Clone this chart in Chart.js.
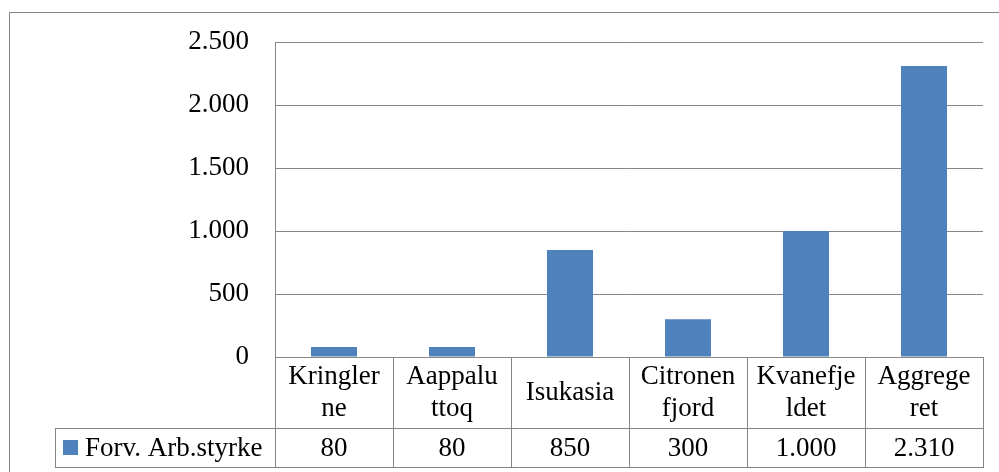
<!DOCTYPE html>
<html><head><meta charset="utf-8">
<script src="https://cdn.jsdelivr.net/npm/chart.js@4/dist/chart.umd.min.js"></script>
<style>html,body{margin:0;padding:0;background:#fff;overflow:hidden}</style>
</head><body><canvas id="c" width="999" height="472"></canvas>
<script>
const categories = [['Kringler','ne'],['Aappalu','ttoq'],['Isukasia'],['Citronen','fjord'],['Kvanefje','ldet'],['Aggrege','ret']];
const seriesName = 'Forv. Arb.styrke';
const values = [80, 80, 850, 300, 1000, 2310];
const yTicks = [0, 500, 1000, 1500, 2000, 2500];

function fmt(v){ return String(v).replace(/\B(?=(\d{3})+(?!\d))/g, '.'); }
const FAMILY = '"Liberation Serif", serif';
const FSIZE = 27;
const GRID = '#868686';
const BAR = '#4F81BD';

const tablePlugin = {
  id: 'table',
  beforeDraw(chart){
    const ctx = chart.ctx;
    ctx.save();
    ctx.fillStyle = '#fff';
    ctx.fillRect(0, 0, chart.width, chart.height);
    ctx.strokeStyle = GRID; ctx.lineWidth = 1;
    ctx.strokeRect(9.5, 12.5, 1100, 600);
    ctx.restore();
  },
  afterDraw(chart){
    const ctx = chart.ctx, a = chart.chartArea, xs = chart.scales.x;
    const n = categories.length;
    const top = a.bottom, mid = top + 71, bot = mid + 39;
    const legendLeft = 55;
    const half = (a.right - a.left) / n / 2;
    const px = v => Math.round(v) + 0.5;
    ctx.save();
    ctx.strokeStyle = GRID; ctx.lineWidth = 1;
    const hl = (x1, x2, y) => { ctx.beginPath(); ctx.moveTo(x1, px(y)); ctx.lineTo(x2, px(y)); ctx.stroke(); };
    const vl = (x, y1, y2) => { ctx.beginPath(); ctx.moveTo(px(x), y1); ctx.lineTo(px(x), y2); ctx.stroke(); };
    hl(a.left, a.right + 1, top);
    hl(legendLeft, a.right + 1, mid);
    hl(legendLeft, a.right + 1, bot);
    vl(legendLeft, mid, bot + 1);
    vl(a.left, top, bot + 1);
    for (let i = 0; i < n; i++) vl(xs.getPixelForValue(i) + half, top, bot + 1);

    ctx.fillStyle = '#000';
    ctx.font = FSIZE + 'px ' + FAMILY;
    ctx.textAlign = 'center'; ctx.textBaseline = 'middle';
    const lh = 32;
    const rowC1 = (top + mid) / 2, rowC2 = (mid + bot) / 2;
    for (let i = 0; i < n; i++) {
      const cx = xs.getPixelForValue(i);
      const lines = categories[i];
      const y0 = rowC1 - (lines.length - 1) * lh / 2;
      lines.forEach((t, k) => ctx.fillText(t, cx, y0 + k * lh));
      ctx.fillText(fmt(values[i]), cx, rowC2 + 1);
    }
    // legend key
    ctx.fillStyle = BAR;
    ctx.fillRect(63, Math.round(rowC2 - 7.5), 15, 15);
    ctx.fillStyle = '#000';
    ctx.textAlign = 'left';
    ctx.fillText(seriesName, 85, rowC2 + 1);
    ctx.restore();
  }
};

new Chart(document.getElementById('c'), {
  type: 'bar',
  data: {
    labels: categories,
    datasets: [{
      label: seriesName,
      data: values,
      backgroundColor: BAR,
      borderWidth: 0,
      barPercentage: 0.39,
      categoryPercentage: 1
    }]
  },
  options: {
    responsive: false,
    animation: false,
    layout: { padding: { left: 0, right: 16, top: 42, bottom: 115 } },
    plugins: { legend: { display: false }, tooltip: { enabled: false } },
    scales: {
      x: { display: false },
      y: {
        min: 0, max: 2500,
        afterFit(s){ s.width = 275; },
        afterBuildTicks(s){ s.ticks = yTicks.map(v => ({ value: v })); },
        ticks: { padding: 26, color: '#000', font: { family: FAMILY, size: FSIZE }, callback: v => fmt(v) },
        grid: { color: GRID, drawTicks: false },
        border: { color: GRID }
      }
    }
  },
  plugins: [tablePlugin]
});
</script>
</body></html>
